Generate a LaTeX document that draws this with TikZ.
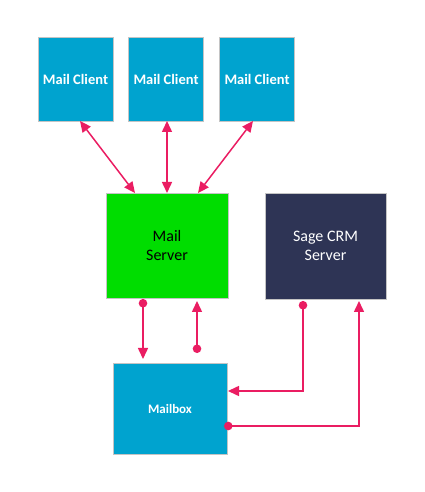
\documentclass[tikz,border=0pt]{standalone}
\usepackage{fontspec}
\setmainfont{Carlito}
\usetikzlibrary{arrows.meta,calc}
\definecolor{clientblue}{HTML}{00A3CF}
\definecolor{srvgreen}{HTML}{00DD00}
\definecolor{crmnavy}{HTML}{2E3455}
\definecolor{linkpink}{HTML}{EA1D62}
\definecolor{edgegray}{HTML}{C4C4C4}
\begin{document}
\begin{tikzpicture}[x=1pt,y=1pt,
  box/.style={draw=edgegray,line width=0.8pt,inner sep=0pt,outer sep=0pt,align=center},
  client/.style={box,fill=clientblue,text=white,minimum width=75pt,minimum height=84pt,font=\fontsize{14.5}{17}\selectfont\bfseries},
  link/.style={draw=linkpink,line width=1.5pt},
  both/.style={{Triangle[length=11pt,width=10pt,fill=linkpink]}-{Triangle[length=11pt,width=10pt,fill=linkpink]}},
  dottip/.style={{Circle[length=8.5pt,fill=linkpink]}-{Triangle[length=11pt,width=10pt,fill=linkpink]}}
]
\useasboundingbox (0,0) rectangle (424,492);
% y in picture = 492 - pixel y
\node[client] (c1) at (75.5,413) {Mail Client};
\node[client] (c2) at (166,413) {Mail Client};
\node[client] (c3) at (257,413) {Mail Client};
\node[box,fill=srvgreen,text=black,minimum width=122pt,minimum height=105pt,font=\fontsize{16}{19.5}\selectfont] (ms) at (167,246.5) {Mail\\Server};
\node[box,fill=crmnavy,text=white,minimum width=121pt,minimum height=106pt,font=\fontsize{16}{19.5}\selectfont] (crm) at (325.5,246) {Sage CRM\\Server};
\node[box,fill=clientblue,text=white,minimum width=114pt,minimum height=91pt,font=\fontsize{13}{16}\selectfont\bfseries] (mb) at (170,83.5) {Mailbox};

% clients <-> mail server
\draw[link,both] ([xshift=4.5pt]c1.south) -- ([xshift=-32pt]ms.north);
\draw[link,both] ([xshift=1pt]c2.south) -- ([xshift=0pt]ms.north);
\draw[link,both] ([xshift=-4pt]c3.south) -- ([xshift=31pt]ms.north);

% mail server <-> mailbox
\draw[link,dottip] ([xshift=-24pt,yshift=-1pt]ms.south) -- ([xshift=-27pt,yshift=4pt]mb.north);
\draw[link,dottip] ([xshift=27pt,yshift=10pt]mb.north) -- ([xshift=30pt,yshift=-3pt]ms.south);

% Sage CRM <-> mailbox
\coordinate (k1) at ([xshift=-22.5pt]crm.south |- 0,101);
\draw[link,dottip] ([xshift=-22.5pt,yshift=-2pt]crm.south) -- (k1) -- ([xshift=1pt,yshift=17.5pt]mb.east);
\coordinate (k2) at ([xshift=33.5pt]crm.south |- 0,66);
\draw[link,dottip] ([xshift=-3pt,yshift=-17.5pt]mb.east) -- (k2) -- ([xshift=33.5pt,yshift=-2pt]crm.south);
\end{tikzpicture}
\end{document}
